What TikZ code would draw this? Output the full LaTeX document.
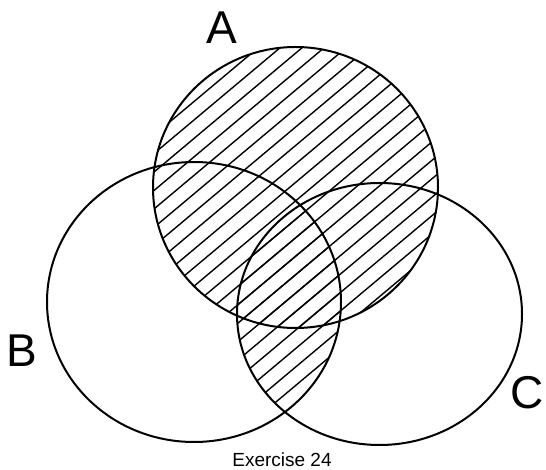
\documentclass[tikz,border=0pt]{standalone}
\usepackage{fontspec}
\setmainfont{Liberation Sans}
\begin{document}
\begin{tikzpicture}[x=1pt,y=-1pt,
  setline/.style={line width=2pt},
  hatchline/.style={line width=1.4pt},
  setlabel/.style={font=\fontsize{46}{46}\selectfont, inner sep=0pt},
  caption/.style={font=\fontsize{19}{19}\selectfont, inner sep=0pt}]
\useasboundingbox (0,0) rectangle (546,470);
% hatching of A
\begin{scope}
  \clip (295.5,187.5) ellipse [x radius=142.5, y radius=140.5];
  \foreach \i in {-609,-587,...,700} \draw[hatchline] (\i,480) -- ++(600,-503.5);
\end{scope}
% hatching of B and C
\begin{scope}
  \clip (194,302) ellipse [x radius=147, y radius=140];
  \clip (379.5,314) ellipse [x radius=142.5, y radius=131];
  \foreach \i in {-609,-587,...,700} \draw[hatchline] (\i,480) -- ++(600,-503.5);
\end{scope}
% outlines
\draw[setline] (295.5,187.5) ellipse [x radius=142.5, y radius=140.5];
\draw[setline] (194,302) ellipse [x radius=147, y radius=140];
\draw[setline] (379.5,314) ellipse [x radius=142.5, y radius=131];
% labels
\node[setlabel] (lA) at (222,28) {A};
\node[setlabel] (lB) at (22,351) {B};
\node[setlabel] (lC) at (527,393) {C};
\node[caption] (cap) at (282,460) {Exercise 24};
\end{tikzpicture}
\end{document}
